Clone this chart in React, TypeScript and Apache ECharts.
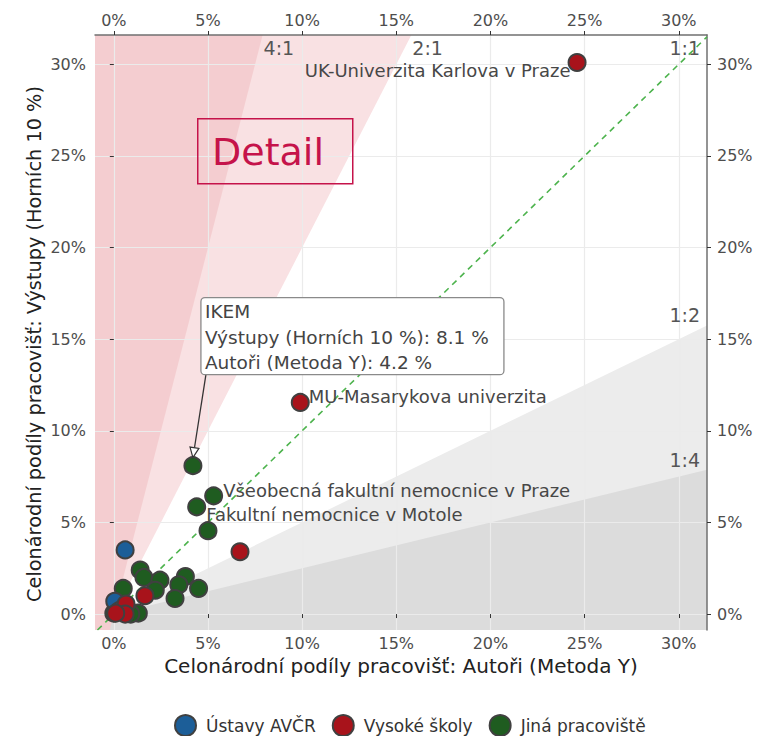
import React, { useEffect, useRef } from "react";
import * as echarts from "echarts";

// ---------- data ----------
const X_MIN = -1.0;
const X_MAX = 31.5;
const Y_MIN = -0.87;
const Y_MAX = 31.6;
const tickValues = [0, 5, 10, 15, 20, 25, 30];

const seriesNames = ["Ústavy AVČR", "Vysoké školy", "Jiná pracoviště"];

const avcrPoints = [
  [0.6, 3.5],
  [0.05, 0.7],
  [0.3, 0.2],
];
const avcrNames = ["", "", ""];

const vsPoints = [
  [24.6, 30.1],
  [9.9, 11.55],
  [6.7, 3.4],
  [1.65, 1.0],
  [0.65, 0.55],
  [0.6, 0.0],
  [0.1, 0.05],
];
const vsNames = ["UK-Univerzita Karlova v Praze", "MU-Masarykova univerzita", "", "", "", "", ""];

const jinaPoints = [
  [4.2, 8.1],
  [5.3, 6.45],
  [4.4, 5.85],
  [5.0, 4.55],
  [1.4, 2.4],
  [1.6, 2.0],
  [2.45, 1.85],
  [2.2, 1.3],
  [0.5, 1.4],
  [3.8, 2.05],
  [3.45, 1.6],
  [4.5, 1.4],
  [3.25, 0.85],
  [1.3, 0.05],
  [0.0, 0.05],
  [0.9, 0.0],
];
const jinaNames = [
  "IKEM",
  "Všeobecná fakultní nemocnice v Praze",
  "Fakultní nemocnice v Motole",
  "", "", "", "", "", "", "", "", "", "", "", "", "",
];

const ratioValues = [4, 2, 1, 0.5, 0.25];
const ratioLabels = ["4:1", "2:1", "1:1", "1:2", "1:4"];

const annotatedName = "IKEM";
const yName = "Výstupy (Horních 10 %)";
const xName = "Autoři (Metoda Y)";
const axisPrefix = "Celonárodní podíly pracovišť: ";

// ---------- styles ----------
const FONT = "DejaVu Sans, Verdana, sans-serif";
const COLORS = ["#1c5e98", "#a8131b", "#1f5c20"];
const BORDER = "#404040";

const labelLayout: Record<string, any> = {
  "UK-Univerzita Karlova v Praze": { position: "left", distance: -3, offset: [0, 8] },
  "MU-Masarykova univerzita": { position: "right", distance: -1, offset: [0, -6] },
  "Všeobecná fakultní nemocnice v Praze": { position: "right", distance: 0, offset: [0, -5] },
  "Fakultní nemocnice v Motole": { position: "right", distance: 0, offset: [0, 8] },
};

function clipHalf(poly: number[][], k: number, above: boolean) {
  const f = (p: number[]) => (above ? p[1] - k * p[0] : k * p[0] - p[1]);
  const out: number[][] = [];
  for (let i = 0; i < poly.length; i++) {
    const a = poly[i];
    const b = poly[(i + 1) % poly.length];
    const fa = f(a);
    const fb = f(b);
    if (fa >= 0) out.push(a);
    if (fa >= 0 !== fb >= 0) {
      const t = fa / (fa - fb);
      out.push([a[0] + t * (b[0] - a[0]), a[1] + t * (b[1] - a[1])]);
    }
  }
  return out;
}

const rect = [
  [X_MIN, Y_MIN],
  [X_MAX, Y_MIN],
  [X_MAX, Y_MAX],
  [X_MIN, Y_MAX],
];

function buildData(points: number[][], names: string[]) {
  return points.map((p, i) => {
    const n = names[i];
    const item: any = { value: p, name: n };
    if (n && labelLayout[n]) {
      item.label = {
        show: true,
        formatter: n,
        fontSize: 18,
        fontFamily: FONT,
        color: "#474747",
        ...labelLayout[n],
      };
    }
    return item;
  });
}

export default function App() {
  const ref = useRef<HTMLDivElement>(null);

  useEffect(() => {
    if (!ref.current) return;
    const chart = echarts.init(ref.current, undefined, { renderer: "svg" });

    const regionFills: Record<string, string> = {
      "2": "#f9e1e3",
      "4": "#f4cdd0",
      "0.5": "#ececec",
      "0.25": "#dcdcdc",
    };

    const axisLabelBase = {
      fontFamily: FONT,
      fontSize: 16,
      color: "#4d4d4d",
      formatter: (v: number) => `${v}%`,
      customValues: tickValues,
    };
    const tickBase = {
      show: true,
      length: 4,
      lineStyle: { color: "#333", width: 1 },
      customValues: tickValues,
    };
    const splitLine = { show: true, lineStyle: { color: "#ebebeb", width: 1.2 } };

    const option: any = {
      animation: false,
      backgroundColor: "#ffffff",
      textStyle: { fontFamily: FONT },
      grid: { left: 95, right: 53, top: 35, bottom: 106, containLabel: false },
      legend: {
        data: seriesNames,
        top: 714,
        left: 174,
        padding: 0,
        icon: "circle",
        itemWidth: 21,
        itemHeight: 21,
        itemGap: 16,
        textStyle: { fontSize: 17, color: "#333", fontFamily: FONT, padding: [0, 0, 0, 5] },
      },
      xAxis: [
        {
          type: "value",
          position: "bottom",
          min: X_MIN,
          max: X_MAX,
          axisLine: { show: false },
          axisTick: tickBase,
          axisLabel: { ...axisLabelBase, margin: 5 },
          splitLine,
          name: axisPrefix + xName,
          nameLocation: "middle",
          nameGap: 25,
          nameTextStyle: { fontSize: 20, color: "#222", fontFamily: FONT },
        },
        {
          type: "value",
          position: "top",
          min: X_MIN,
          max: X_MAX,
          axisLine: { show: true, onZero: false, lineStyle: { color: "#707070", width: 1.5 } },
          axisTick: tickBase,
          axisLabel: { ...axisLabelBase, margin: 7 },
          splitLine: { show: false },
        },
      ],
      yAxis: [
        {
          type: "value",
          position: "left",
          min: Y_MIN,
          max: Y_MAX,
          axisLine: { show: false },
          axisTick: tickBase,
          axisLabel: { ...axisLabelBase, margin: 9 },
          splitLine,
        },
        {
          type: "value",
          position: "right",
          min: Y_MIN,
          max: Y_MAX,
          axisLine: { show: true, onZero: false, lineStyle: { color: "#707070", width: 1.5 } },
          axisTick: tickBase,
          axisLabel: { ...axisLabelBase, margin: 10 },
          splitLine: { show: false },
        },
      ],
      series: [
        {
          type: "custom",
          name: "regions",
          coordinateSystem: "cartesian2d",
          xAxisIndex: 0,
          yAxisIndex: 0,
          silent: true,
          z: -1,
          clip: true,
          data: [[0, 0]],
          renderItem: (_params: any, api: any) => {
            const children: any[] = [];
            const order = [0.5, 0.25, 2, 4];
            order.forEach((k) => {
              const poly = clipHalf(rect, k, k > 1);
              children.push({
                type: "polygon",
                shape: { points: poly.map((p) => api.coord(p)) },
                style: { fill: regionFills[String(k)], stroke: null },
              });
            });
            return { type: "group", children };
          },
        },
        {
          type: "line",
          name: "1:1",
          xAxisIndex: 0,
          yAxisIndex: 0,
          data: [
            [Math.max(X_MIN, Y_MIN), Math.max(X_MIN, Y_MIN)],
            [Math.min(X_MAX, Y_MAX), Math.min(X_MAX, Y_MAX)],
          ],
          symbol: "none",
          silent: true,
          z: 1,
          lineStyle: { color: "#4db34d", width: 1.6, type: [6, 5] },
        },
        {
          type: "custom",
          name: "ratioLabels",
          coordinateSystem: "cartesian2d",
          xAxisIndex: 0,
          yAxisIndex: 0,
          silent: true,
          z: 1,
          data: [[0, 0]],
          renderItem: (_params: any, api: any) => {
            const children: any[] = [];
            ratioValues.forEach((k, i) => {
              let x: number, y: number, align: string;
              if (k > 1) {
                const p = api.coord([Y_MAX / k, Y_MAX]);
                x = p[0] + 1;
                y = p[1] + 13;
                align = "left";
              } else if (k === 1) {
                const p = api.coord([X_MAX, Y_MAX]);
                x = p[0] - 7;
                y = p[1] + 13;
                align = "right";
              } else {
                const p = api.coord([X_MAX, X_MAX * k]);
                x = p[0] - 7;
                y = p[1] - 10;
                align = "right";
              }
              children.push({
                type: "text",
                x,
                y,
                style: {
                  text: ratioLabels[i],
                  fill: "#555",
                  fontSize: 19,
                  fontFamily: FONT,
                  align,
                  verticalAlign: "middle",
                },
              });
            });
            return { type: "group", children };
          },
        },
        {
          type: "scatter",
          name: seriesNames[2],
          data: buildData(jinaPoints, jinaNames),
          symbolSize: 17,
          z: 3,
          itemStyle: { color: COLORS[2], borderColor: BORDER, borderWidth: 2, opacity: 1 },
        },
        {
          type: "scatter",
          name: seriesNames[0],
          data: buildData(avcrPoints, avcrNames),
          symbolSize: 17,
          z: 4,
          itemStyle: { color: COLORS[0], borderColor: BORDER, borderWidth: 2, opacity: 1 },
        },
        {
          type: "scatter",
          name: seriesNames[1],
          data: buildData(vsPoints, vsNames),
          symbolSize: 17,
          z: 5,
          itemStyle: { color: COLORS[1], borderColor: BORDER, borderWidth: 2, opacity: 1 },
        },
      ],
    };

    chart.setOption(option);

    // annotation for IKEM + Detail box
    const idx = jinaNames.indexOf(annotatedName);
    const pt = jinaPoints[idx];
    const [px, py] = chart.convertToPixel({ gridIndex: 0 }, pt) as number[];
    const boxLeft = px + 8;
    const boxTop = py - 168;
    const boxW = 303;
    const boxH = 77;
    const tail = [boxLeft + 5, boxTop + boxH];
    const tip = [px, py - 8];
    const dx = tip[0] - tail[0];
    const dy = tip[1] - tail[1];
    const len = Math.sqrt(dx * dx + dy * dy);
    const ux = dx / len;
    const uy = dy / len;
    const base = [tip[0] - ux * 10, tip[1] - uy * 10];
    const nx = -uy;
    const ny = ux;

    const lines = [
      annotatedName,
      `${yName}: ${pt[1].toFixed(1)} %`,
      `${xName}: ${pt[0].toFixed(1)} %`,
    ];

    chart.setOption({
      graphic: [
        {
          type: "text",
          x: 34,
          y: 344,
          rotation: Math.PI / 2,
          style: {
            text: axisPrefix + yName,
            fill: "#222",
            fontSize: 19.3,
            fontFamily: FONT,
            align: "center",
            verticalAlign: "middle",
          },
          z: 10,
        },
        {
          type: "rect",
          left: 197,
          top: 118,
          shape: { width: 155, height: 65 },
          style: { fill: "rgba(0,0,0,0)", stroke: "#c5134a", lineWidth: 1.5 },
          z: 10,
        },
        {
          type: "text",
          x: 268,
          y: 152,
          style: {
            text: "Detail",
            fill: "#c5134a",
            fontSize: 38,
            fontFamily: FONT,
            align: "center",
            verticalAlign: "middle",
          },
          z: 10,
        },
        {
          type: "line",
          shape: { x1: tail[0], y1: tail[1], x2: base[0], y2: base[1] },
          style: { stroke: "#333", lineWidth: 1.3 },
          z: 10,
        },
        {
          type: "polygon",
          shape: {
            points: [
              tip,
              [base[0] + nx * 4.5, base[1] + ny * 4.5],
              [base[0] - nx * 4.5, base[1] - ny * 4.5],
            ],
          },
          style: { fill: "#ffffff", stroke: "#333", lineWidth: 1.2 },
          z: 10,
        },
        {
          type: "rect",
          x: boxLeft,
          y: boxTop,
          shape: { width: boxW, height: boxH, r: 4 },
          style: { fill: "#ffffff", stroke: "#8a8a8a", lineWidth: 1.3 },
          z: 10,
        },
        ...lines.map((t, i) => ({
          type: "text",
          x: boxLeft + 4,
          y: boxTop + 14 + i * 25.5,
          style: {
            text: t,
            fill: "#444",
            fontSize: 18.5,
            fontFamily: FONT,
            align: "left",
            verticalAlign: "middle",
          },
          z: 11,
        })),
      ],
    });

    return () => {
      chart.dispose();
    };
  }, []);

  return (
    <div
      ref={ref}
      style={{ position: "fixed", left: 0, top: 0, width: 760, height: 736, background: "#fff" }}
    />
  );
}
